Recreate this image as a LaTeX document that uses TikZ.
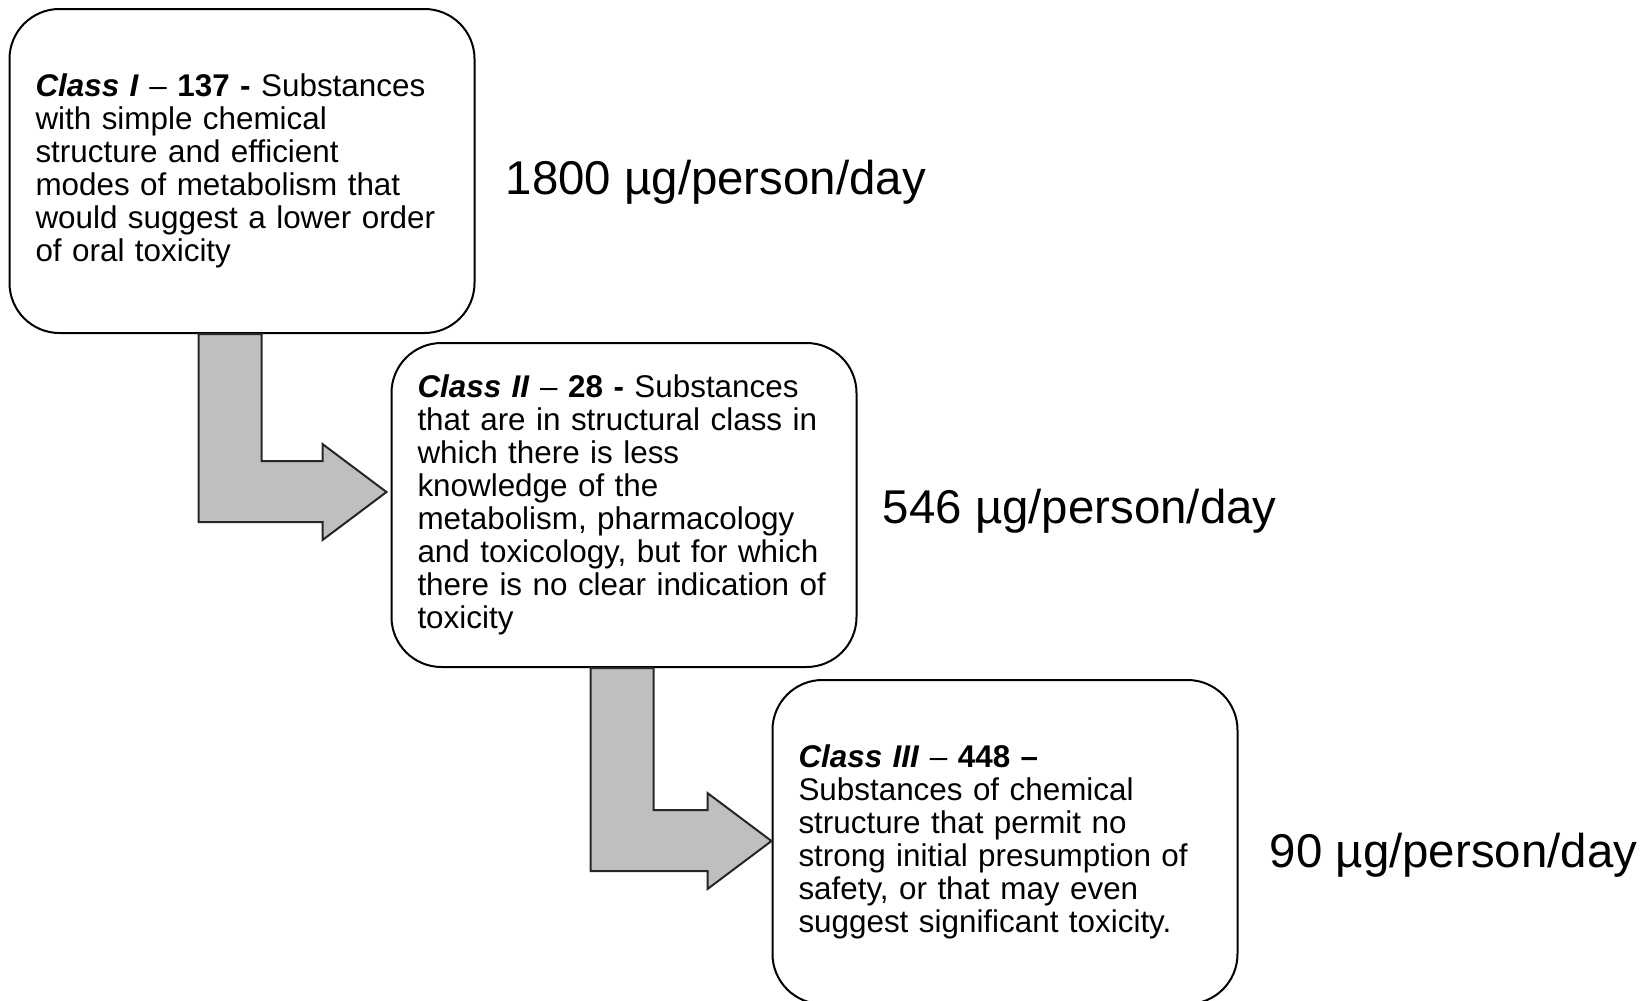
\documentclass[tikz,border=0pt]{standalone}
\usepackage{fontspec}
\setmainfont{Liberation Sans}
\usepackage{tikz}
\usetikzlibrary{positioning,calc}

\begin{document}
\begin{tikzpicture}[
    x=0.5pt, y=-0.5pt,
    node distance=14pt,
    classbox/.style={
        rectangle,
        draw,
        line width=1pt,
        rounded corners=25pt,
        fill=white,
        minimum width=232.5pt,
        minimum height=162pt,
        text width=206.5pt,
        inner xsep=13pt,
        align=left,
        font=\fontsize{15.7}{16.5}\selectfont
    },
    dose/.style={
        font=\fontsize{23.7}{28}\selectfont,
        inner sep=0pt
    },
    bigarrow/.style={
        fill=black!25,
        draw=black!85,
        line width=1pt,
        line join=miter
    }
]

\useasboundingbox (0,0) rectangle (1640,1001);

\node[classbox] (class1) at (242,171)
{\textbf{\textit{Class I}} – \textbf{137 -} Substances\\
with simple chemical\\
structure and efficient\\
modes of metabolism that\\
would suggest a lower order\\
of oral toxicity};

\node[classbox] (class2) at (624,505)
{\textbf{\textit{Class II}} – \textbf{28 -} Substances\\
that are in structural class in\\
which there is less\\
knowledge of the\\
metabolism, pharmacology\\
and toxicology, but for which\\
there is no clear indication of\\
toxicity};

\node[classbox] (class3) at (1005,842)
{\textbf{\textit{Class III}} – \textbf{448 –}\\
Substances of chemical\\
structure that permit no\\
strong initial presumption of\\
safety, or that may even\\
suggest significant toxicity.};

\node[dose, right=15pt of class1, yshift=-5.5pt] (dose1) {1800 µg/person/day};
\node[dose, right=12.5pt of class2, yshift=-3pt] (dose2) {546 µg/person/day};
\node[dose, right=15.5pt of class3, yshift=-6.5pt] (dose3) {90 µg/person/day};

% elbow arrows between the classes
\coordinate (s1) at ($(class1.south west)+(190,0)$);
\coordinate (t1) at ($(class2.west)+(-4,-13)$);
\coordinate (s2) at ($(class2.south west)+(200,0)$);
\coordinate (t2) at ($(class3.west)+(0,-1)$);

\begin{scope}[on background layer/.try]
\foreach \s/\t in {s1/t1, s2/t2}
  \draw[bigarrow] let \p1=(\s), \p2=(\t) in
    (\x1,\y1) -- (\x1+31.5pt,\y1) -- (\x1+31.5pt,\y2+15.5pt)
    -- (\x2-32pt,\y2+15.5pt) -- (\x2-32pt,\y2+24pt) -- (\x2,\y2)
    -- (\x2-32pt,\y2-24pt) -- (\x2-32pt,\y2-15pt) -- (\x1,\y2-15pt) -- cycle;
\end{scope}

\end{tikzpicture}
\end{document}
